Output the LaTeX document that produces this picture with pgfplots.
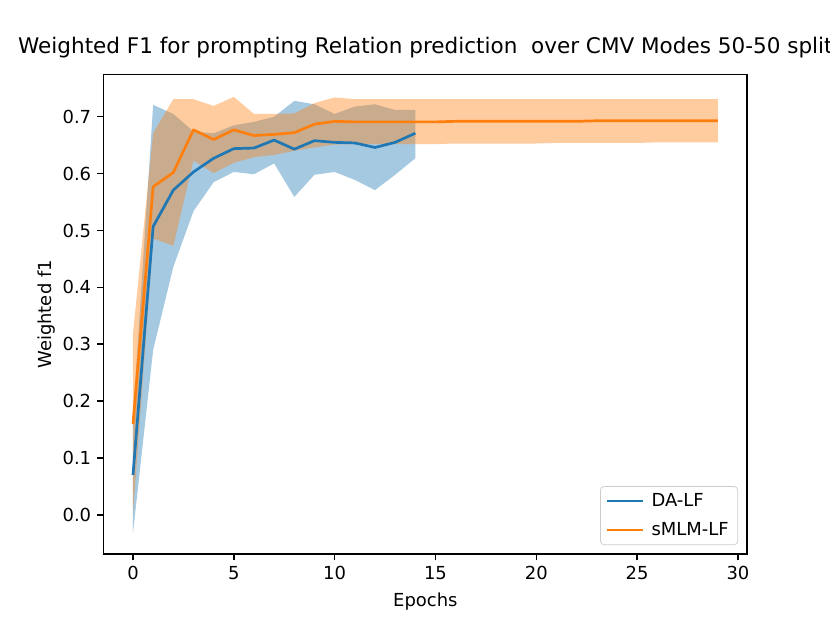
\documentclass[border=0pt]{standalone}
\usepackage{fontspec}
\setmainfont{DejaVu Sans}
\usepackage{pgfplots}
\pgfplotsset{compat=1.18}
\usepackage{pgfplotstable}
\usepgfplotslibrary{fillbetween}
\definecolor{tabblue}{HTML}{1F77B4}
\definecolor{taborange}{HTML}{FF7F0E}

\pgfplotstableread{
x m lo hi
0 0.070 -0.032 0.172
1 0.507 0.290 0.721
2 0.571 0.436 0.705
3 0.603 0.534 0.674
4 0.627 0.585 0.671
5 0.644 0.603 0.685
6 0.645 0.599 0.691
7 0.659 0.618 0.700
8 0.643 0.559 0.728
9 0.658 0.598 0.722
10 0.655 0.603 0.705
11 0.654 0.589 0.718
12 0.646 0.571 0.722
13 0.655 0.598 0.712
14 0.671 0.627 0.712
}\bluedata

\pgfplotstableread{
x m lo hi
0 0.160 0.001 0.319
1 0.577 0.486 0.671
2 0.602 0.473 0.731
3 0.677 0.623 0.731
4 0.660 0.601 0.719
5 0.677 0.619 0.735
6 0.667 0.629 0.705
7 0.669 0.633 0.705
8 0.672 0.640 0.706
9 0.687 0.646 0.724
10 0.692 0.651 0.734
11 0.691 0.652 0.731
12 0.691 0.652 0.731
13 0.691 0.652 0.731
14 0.691 0.652 0.731
15 0.691 0.652 0.731
16 0.692 0.653 0.731
17 0.692 0.653 0.731
18 0.692 0.653 0.731
19 0.692 0.653 0.731
20 0.692 0.653 0.731
21 0.692 0.654 0.731
22 0.692 0.654 0.731
23 0.693 0.654 0.731
24 0.693 0.654 0.731
25 0.693 0.654 0.731
26 0.693 0.655 0.731
27 0.693 0.655 0.731
28 0.693 0.655 0.731
29 0.693 0.655 0.731
}\orangedata

\begin{document}
\begin{tikzpicture}
\begin{axis}[
  at={(57.6bp,38.016bp)}, anchor=south west,
  scale only axis, width=357.12bp, height=266.112bp,
  xmin=-1.45, xmax=30.45, ymin=-0.069, ymax=0.774,
  xtick={0,5,10,15,20,25,30},
  ytick={0,0.1,0.2,0.3,0.4,0.5,0.6,0.7},
  yticklabel style={/pgf/number format/.cd, fixed, fixed zerofill, precision=1},
  /pgf/number format/assume math mode=true,
  ticklabel style={font=\fontsize{10}{12}\selectfont},
  tick pos=left, tick align=outside, major tick length=3.5pt,
  tick style={line width=0.8pt, black},
  axis line style={line width=0.8pt},
  title={Weighted F1 for prompting Relation prediction\ \ over CMV Modes 50-50 split},
  title style={font=\fontsize{12}{14}\selectfont, at={(0.5,1)}, anchor=base, yshift=6pt, inner sep=0pt},
  xlabel={Epochs}, ylabel={Weighted f1},
  ylabel shift=-2.8pt,
  label style={font=\fontsize{10}{12}\selectfont},
  legend style={at={(1,0)}, anchor=south east, xshift=-5pt, yshift=5pt,
    draw=black!20, rounded corners=2pt, fill=white, fill opacity=0.8, text opacity=1,
    font=\fontsize{10}{12}\selectfont, inner xsep=3pt, inner ysep=1.8pt, row sep=3.3pt,
    cells={anchor=west},
    /tikz/every odd column/.append style={column sep=2pt}},
  legend image code/.code={\draw[#1, line width=1.5pt] (0pt,0pt) -- (20pt,0pt);},
]
\addplot[name path=bU, draw=none, forget plot] table[x=x,y=hi]{\bluedata};
\addplot[name path=bL, draw=none, forget plot] table[x=x,y=lo]{\bluedata};
\addplot[fill=tabblue, fill opacity=0.4, draw=none, forget plot] fill between[of=bU and bL];
\addplot[name path=oU, draw=none, forget plot] table[x=x,y=hi]{\orangedata};
\addplot[name path=oL, draw=none, forget plot] table[x=x,y=lo]{\orangedata};
\addplot[fill=taborange, fill opacity=0.4, draw=none, forget plot] fill between[of=oU and oL];
\addplot[tabblue, line width=1.5pt, line join=round, mark=none] table[x=x,y=m]{\bluedata};
\addlegendentry{DA-LF}
\addplot[taborange, line width=1.5pt, line join=round, mark=none] table[x=x,y=m]{\orangedata};
\addlegendentry{sMLM-LF}
\end{axis}
\pgfresetboundingbox
\path[use as bounding box] (0,0) rectangle (460.8bp,345.6bp);
\end{tikzpicture}
\end{document}
